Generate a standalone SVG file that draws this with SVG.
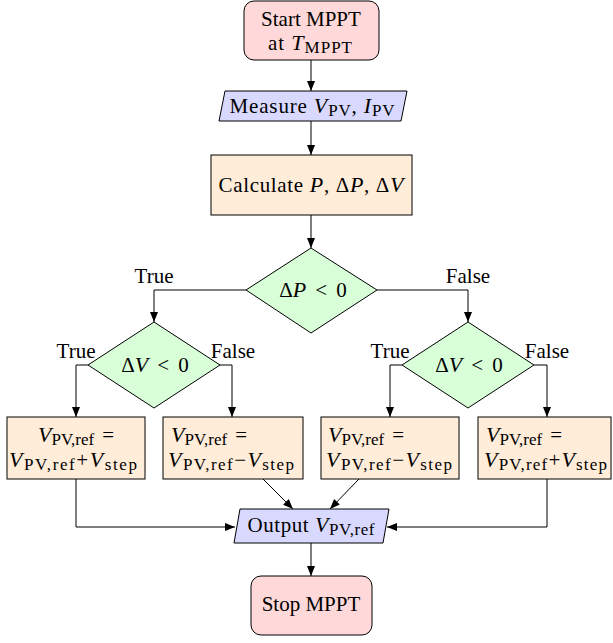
<svg xmlns="http://www.w3.org/2000/svg" width="613" height="643" viewBox="0 0 613 643">
<style>
text{font-family:"Liberation Serif","Times New Roman",serif;font-size:21px;fill:#000}
.c{text-anchor:middle}
.i{font-style:italic;font-size:22px}
.s{font-size:17px}
.red{fill:#ffd9d9;stroke:#000;stroke-width:1}
.blue{fill:#d9d9ff;stroke:#000;stroke-width:1}
.org{fill:#ffecd9;stroke:#000;stroke-width:1}
.grn{fill:#d9ffd9;stroke:#000;stroke-width:1}
.e{fill:none;stroke:#000;stroke-width:1;marker-end:url(#ah)}
</style>
<defs>
<marker id="ah" markerUnits="userSpaceOnUse" markerWidth="11" markerHeight="9" refX="10" refY="4" orient="auto">
<path d="M0,0 L10,4 L0,8 z" fill="#000"/>
</marker>
</defs>
<g id="connectors">
<path class="e" d="M311,60 V91"/>
<path class="e" d="M311,121 V155"/>
<path class="e" d="M311,215 V248"/>
<path class="e" d="M246,290 H154 V322"/>
<path class="e" d="M377,290 H468 V322"/>
<path class="e" d="M88,365 H76 V417"/>
<path class="e" d="M220,365 H232 V417"/>
<path class="e" d="M402,365 H390 V417"/>
<path class="e" d="M534,365 H547 V417"/>
<path class="e" d="M76,479 V527 H235"/>
<path class="e" d="M263,479 L293,509"/>
<path class="e" d="M359,479 L330,509"/>
<path class="e" d="M547,479 V527 H387"/>
<path class="e" d="M311,543 V576"/>
<text class="c" x="154" y="283">True</text>
<text class="c" x="468" y="283">False</text>
<text class="c" x="76" y="358">True</text>
<text class="c" x="233" y="358">False</text>
<text class="c" x="390" y="358">True</text>
<text class="c" x="547" y="358">False</text>
</g>
<g id="start">
<rect class="red" x="244" y="1" width="135" height="59" rx="10"/>
<text class="c" x="311" y="26">Start MPPT</text>
<text class="c" x="310" y="50" textLength="84">at <tspan class="i">T</tspan><tspan class="s" dy="3">MPPT</tspan></text>
</g>
<g id="measure">
<path class="blue" d="M225,91 H407 L401,121 H219 Z"/>
<text class="c" x="312" y="113" textLength="165">Measure <tspan class="i">V</tspan><tspan class="s" dy="3">PV</tspan><tspan dy="-3">, </tspan><tspan class="i">I</tspan><tspan class="s" dy="3">PV</tspan></text>
</g>
<g id="calc">
<rect class="org" x="211" y="155" width="201" height="60"/>
<text class="c" x="311" y="192" textLength="185">Calculate <tspan class="i">P</tspan>, Δ<tspan class="i">P</tspan>, Δ<tspan class="i">V</tspan></text>
</g>
<g id="dP">
<path class="grn" d="M311,248 L377,290 L311,333 L246,290 Z"/>
<text class="c" x="313" y="297">Δ<tspan class="i">P</tspan><tspan dx="9">&lt;</tspan><tspan dx="9">0</tspan></text>
</g>
<g id="dV1">
<path class="grn" d="M154,322 L220,365 L154,408 L88,365 Z"/>
<text class="c" x="155" y="372">Δ<tspan class="i">V</tspan><tspan dx="9">&lt;</tspan><tspan dx="9">0</tspan></text>
</g>
<g id="dV2">
<path class="grn" d="M468,322 L534,365 L468,408 L402,365 Z"/>
<text class="c" x="469" y="372">Δ<tspan class="i">V</tspan><tspan dx="9">&lt;</tspan><tspan dx="9">0</tspan></text>
</g>
<g id="box1">
<rect class="org" x="7" y="417" width="138" height="62"/>
<text class="c" x="76" y="442"><tspan class="i">V</tspan><tspan class="s" dy="3">PV,ref</tspan><tspan dy="-3" dx="8">=</tspan></text>
<text class="c" x="73" y="467" textLength="128"><tspan class="i">V</tspan><tspan class="s" dy="3">PV,ref</tspan><tspan dy="-3">+</tspan><tspan class="i">V</tspan><tspan class="s" dy="3">step</tspan></text>
</g>
<g id="box2">
<rect class="org" x="163" y="417" width="140" height="62"/>
<text x="171" y="442"><tspan class="i">V</tspan><tspan class="s" dy="3">PV,ref</tspan><tspan dy="-3" dx="8">=</tspan></text>
<text x="168" y="467" textLength="126"><tspan class="i">V</tspan><tspan class="s" dy="3">PV,ref</tspan><tspan dy="-3">−</tspan><tspan class="i">V</tspan><tspan class="s" dy="3">step</tspan></text>
</g>
<g id="box3">
<rect class="org" x="321" y="417" width="138" height="62"/>
<text x="328" y="442"><tspan class="i">V</tspan><tspan class="s" dy="3">PV,ref</tspan><tspan dy="-3" dx="8">=</tspan></text>
<text x="326" y="467" textLength="126"><tspan class="i">V</tspan><tspan class="s" dy="3">PV,ref</tspan><tspan dy="-3">−</tspan><tspan class="i">V</tspan><tspan class="s" dy="3">step</tspan></text>
</g>
<g id="box4">
<rect class="org" x="478" y="417" width="133" height="62"/>
<text x="486" y="442"><tspan class="i">V</tspan><tspan class="s" dy="3">PV,ref</tspan><tspan dy="-3" dx="8">=</tspan></text>
<text x="484" y="467" textLength="123"><tspan class="i">V</tspan><tspan class="s" dy="3">PV,ref</tspan><tspan dy="-3">+</tspan><tspan class="i">V</tspan><tspan class="s" dy="3">step</tspan></text>
</g>
<g id="output">
<path class="blue" d="M240,509 H389 L383,543 H234 Z"/>
<text class="c" x="311" y="532" textLength="127">Output <tspan class="i">V</tspan><tspan class="s" dy="3">PV,ref</tspan></text>
</g>
<g id="stop">
<rect class="red" x="251" y="576" width="121" height="59" rx="10"/>
<text class="c" x="311" y="611">Stop MPPT</text>
</g>
</svg>
